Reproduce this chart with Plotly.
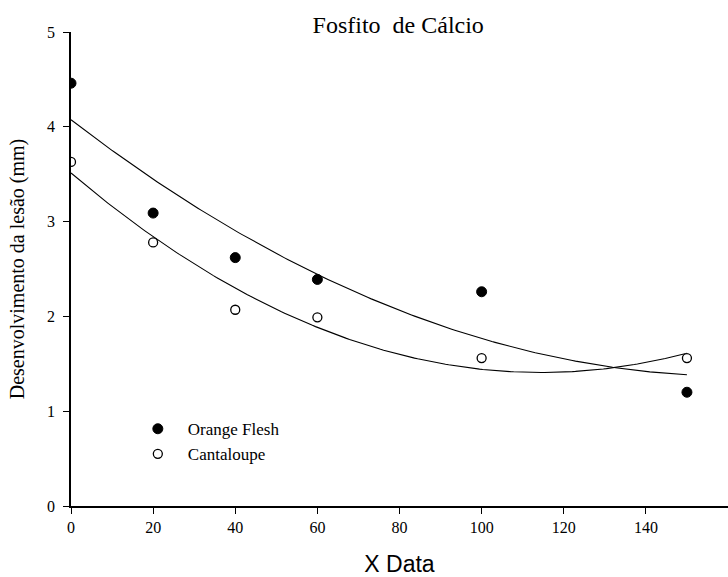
import numpy as np
import plotly.graph_objects as go

x_vals = [0, 20, 40, 60, 100, 150]
orange_flesh = [4.46, 3.09, 2.62, 2.39, 2.26, 1.20]
cantaloupe = [3.63, 2.78, 2.07, 1.99, 1.56, 1.56]
x_ticks = [0, 20, 40, 60, 80, 100, 120, 140]
y_ticks = [0, 1, 2, 3, 4, 5]

serif = "Liberation Serif"

fig = go.Figure()

# quadratic regression curves derived from the data
xf = np.linspace(min(x_vals), max(x_vals), 200)
for ys in (orange_flesh, cantaloupe):
    c = np.polyfit(x_vals, ys, 2)
    fig.add_trace(go.Scatter(x=xf, y=np.polyval(c, xf), mode="lines",
                             line=dict(color="black", width=1.1),
                             showlegend=False, hoverinfo="skip"))

fig.add_trace(go.Scatter(x=x_vals, y=orange_flesh, mode="markers", name="Orange Flesh",
                         marker=dict(symbol="circle", size=10, color="black",
                                     line=dict(color="black", width=1))))
fig.add_trace(go.Scatter(x=x_vals, y=cantaloupe, mode="markers", name="Cantaloupe",
                         marker=dict(symbol="circle", size=9, color="white",
                                     line=dict(color="black", width=1.3))))

fig.update_layout(
    width=728, height=577,
    margin=dict(l=71, r=0, t=32, b=71),
    paper_bgcolor="white", plot_bgcolor="white",
    title=dict(text="Fosfito\u00a0\u00a0de Cálcio", x=0.547, xanchor="center", y=0.957, yanchor="middle",
               font=dict(family=serif, size=24, color="black")),
    legend=dict(x=0.0865, y=0.2, xanchor="left", yanchor="top", itemwidth=50,
                font=dict(family=serif, size=17, color="black"),
                bgcolor="rgba(0,0,0,0)", tracegroupgap=0),
    xaxis=dict(range=[0, 160], tickvals=x_ticks, ticks="outside", ticklen=6, tickwidth=1,
               tickcolor="black", showline=True, linecolor="black", linewidth=1.5,
               showgrid=False, zeroline=False,
               tickfont=dict(family=serif, size=16, color="black"),
               title=dict(text="X Data", font=dict(family="Liberation Sans", size=23, color="black"),
                          standoff=22)),
    yaxis=dict(range=[0, 5], tickvals=y_ticks, ticks="outside", ticklen=6, tickwidth=1,
               tickcolor="black", showline=True, linecolor="black", linewidth=1.5,
               showgrid=False, zeroline=False, ticklabelstandoff=5,
               tickfont=dict(family=serif, size=16, color="black"),
               title=dict(text="Desenvolvimento da lesão (mm)",
                          font=dict(family=serif, size=20, color="black"), standoff=17)),
)

fig.write_html("out.html")
